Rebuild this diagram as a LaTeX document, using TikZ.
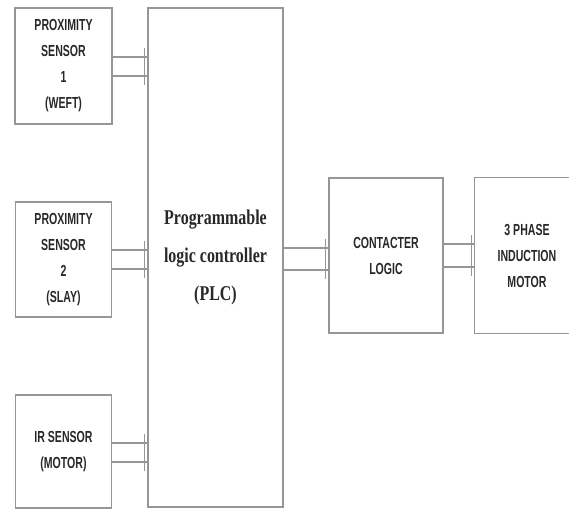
\documentclass[tikz,border=0pt]{standalone}
\usepackage{fontspec}
\setmainfont{Liberation Sans}
\newfontfamily\lblfont[FakeStretch=0.66]{Liberation Sans Bold}
\newfontfamily\plcfont[FakeStretch=0.76]{Liberation Serif Bold}
\definecolor{edge}{RGB}{150,150,150}
\definecolor{ink}{RGB}{40,40,40}
\begin{document}
\begin{tikzpicture}[x=1pt,y=-1pt,
  blk/.style={draw=edge,line width=1.4pt,fill=white,inner sep=0pt,align=center,text=ink},
  lbl/.style={blk,font=\lblfont\fontsize{16}{26}\selectfont},
  wire/.style={draw=edge,line width=1.3pt}]
\useasboundingbox (0,0) rectangle (569,511);
\node[lbl,minimum width=97pt,minimum height=116pt] (s1) at (63.5,66) {PROXIMITY\\SENSOR\\1\\(WEFT)};
\node[lbl,minimum width=96pt,minimum height=115pt] (s2) at (63.5,259.5) {PROXIMITY\\SENSOR\\2\\(SLAY)};
\node[lbl,minimum width=96pt,minimum height=113pt] (s3) at (63.5,451.5) {IR SENSOR\\(MOTOR)};
\node[blk,minimum width=135pt,minimum height=499pt,font=\plcfont\fontsize{21}{38}\selectfont] (plc) at (215.5,257.5) {Programmable\\logic controller\\(PLC)};
\node[lbl,minimum width=114pt,minimum height=155pt] (con) at (386,255.5) {CONTACTER\\LOGIC};
\node[lbl,draw=none,minimum width=104pt,minimum height=155pt] (mot) at (527,255.5) {3 PHASE\\INDUCTION\\MOTOR};
\draw[draw=edge,line width=1.4pt] ([xshift=10pt]mot.north east) -- (mot.north west) -- (mot.south west) -- ([xshift=10pt]mot.south east);
\newcommand\dblarrow[4]{%
  \draw[wire] (#1.east |- 0,#3) -- (#2.west |- 0,#3);
  \draw[wire] (#1.east |- 0,#4) -- (#2.west |- 0,#4);
  \draw[wire] ([xshift=-3pt]#2.west |- 0,#3-9) -- ([xshift=-3pt]#2.west |- 0,#4+9);}
\dblarrow{s1}{plc}{57}{76}
\dblarrow{s2}{plc}{250}{269}
\dblarrow{s3}{plc}{443}{462}
\dblarrow{plc}{con}{248}{270}
\dblarrow{con}{mot}{244}{267}
\end{tikzpicture}
\end{document}
